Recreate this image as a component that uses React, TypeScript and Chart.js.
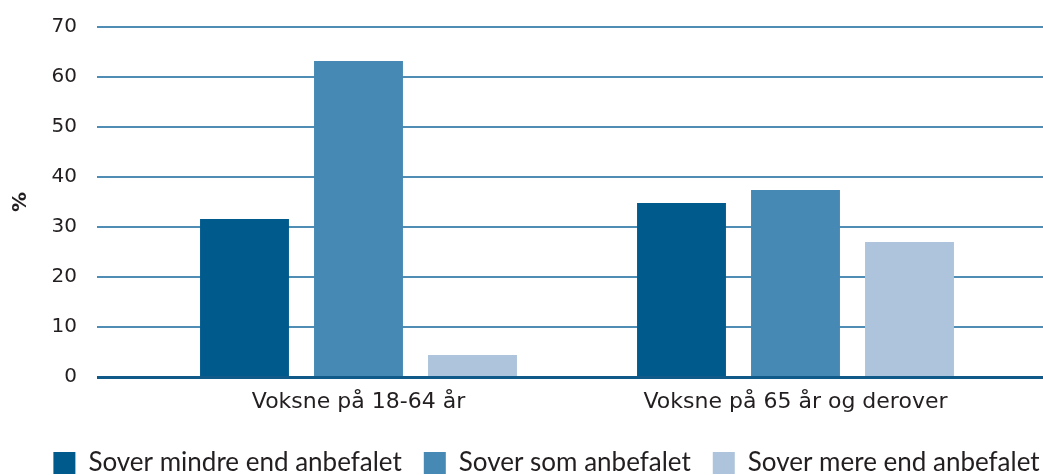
import React, { useEffect, useRef } from "react";
import { Chart, registerables } from "chart.js";

Chart.register(...registerables);

const categories = ["Voksne på 18-64 år", "Voksne på 65 år og derover"];
const seriesNames = ["Sover mindre end anbefalet", "Sover som anbefalet", "Sover mere end anbefalet"];
const lessThanRecommended = [31.6, 34.8];
const asRecommended = [63.2, 37.4];
const moreThanRecommended = [4.4, 27.0];
const yTicks = [0, 10, 20, 30, 40, 50, 60, 70];
const yTitle = "%";

const COLORS = ["#005a8c", "#4589b4", "#adc4dc"];
const GRID_COLOR = "#4f8db5";
const BASE_COLOR = "#0f5a88";
const TEXT_COLOR = "#231f20";
const AXIS_FONT = "DejaVu Sans";
const LEGEND_FONT = "Lato";

const gridPlugin = {
  id: "extendedGrid",
  beforeDatasetsDraw(chart: any) {
    const { ctx, chartArea, scales } = chart;
    const y = scales.y;
    ctx.save();
    ctx.strokeStyle = GRID_COLOR;
    ctx.lineWidth = 2;
    yTicks.forEach((v) => {
      if (v === 0) return;
      const py = Math.round(y.getPixelForValue(v));
      ctx.beginPath();
      ctx.moveTo(chartArea.left - 43, py);
      ctx.lineTo(chart.width, py);
      ctx.stroke();
    });
    ctx.restore();
  },
  afterDatasetsDraw(chart: any) {
    const { ctx, chartArea, scales } = chart;
    const py = Math.round(scales.y.getPixelForValue(0)) + 0.5;
    ctx.save();
    ctx.strokeStyle = BASE_COLOR;
    ctx.lineWidth = 3;
    ctx.beginPath();
    ctx.moveTo(chartArea.left - 43, py);
    ctx.lineTo(chart.width, py);
    ctx.stroke();
    ctx.restore();
  },
  afterLayout(chart: any) {
    if (chart.legend) {
      chart.legend.left += 25;
      chart.legend.right += 25;
    }
  },
};

export default function App() {
  const ref = useRef<HTMLCanvasElement>(null);
  useEffect(() => {
    document.body.style.margin = "0";
    const chart = new Chart(ref.current as HTMLCanvasElement, {
      type: "bar",
      data: {
        labels: categories,
        datasets: [
          { label: seriesNames[0], data: lessThanRecommended, backgroundColor: COLORS[0] },
          { label: seriesNames[1], data: asRecommended, backgroundColor: COLORS[1] },
          { label: seriesNames[2], data: moreThanRecommended, backgroundColor: COLORS[2] },
        ],
      },
      options: {
        animation: false,
        responsive: false,
        maintainAspectRatio: false,
        layout: { padding: { top: 27, right: 0, left: 0, bottom: 0 } },
        datasets: { bar: { categoryPercentage: 0.7826, barPercentage: 0.78 } },
        plugins: {
          tooltip: { enabled: false },
          legend: {
            position: "bottom",
            labels: {
              boxWidth: 22,
              boxHeight: 22,
              padding: 22,
              color: TEXT_COLOR,
              font: { family: LEGEND_FONT, size: 26 },
            },
          },
        },
        scales: {
          x: {
            grid: { display: false, drawTicks: false },
            border: { display: false },
            ticks: { color: TEXT_COLOR, font: { family: AXIS_FONT, size: 22 }, padding: 12 },
            afterFit(scale: any) {
              scale.height = 51;
            },
          },
          y: {
            min: 0,
            max: 70,
            afterBuildTicks(scale: any) {
              scale.ticks = yTicks.map((v) => ({ value: v }));
            },
            grid: { display: false, drawTicks: false },
            border: { display: false },
            ticks: { color: TEXT_COLOR, font: { family: AXIS_FONT, size: 20 }, padding: 63 },
            title: {
              display: true,
              text: yTitle,
              color: TEXT_COLOR,
              font: { family: AXIS_FONT, size: 20, weight: "bold" },
              padding: { top: 9, bottom: 0 },
            },
            afterFit(scale: any) {
              scale.width = 140;
              scale.paddingTop = 0;
              scale.paddingBottom = 0;
            },
          },
          spacer: {
            type: "linear",
            position: "right",
            grid: { display: false, drawTicks: false },
            border: { display: false },
            ticks: { display: false },
            afterFit(scale: any) {
              scale.width = 29;
              scale.paddingTop = 0;
              scale.paddingBottom = 0;
            },
          },
        },
      },
      plugins: [gridPlugin],
    } as any);
    return () => chart.destroy();
  }, []);
  return (
    <div style={{ width: 1043, height: 475, overflow: "hidden" }}>
      <canvas ref={ref} width={1043} height={486} style={{ display: "block" }} />
    </div>
  );
}
